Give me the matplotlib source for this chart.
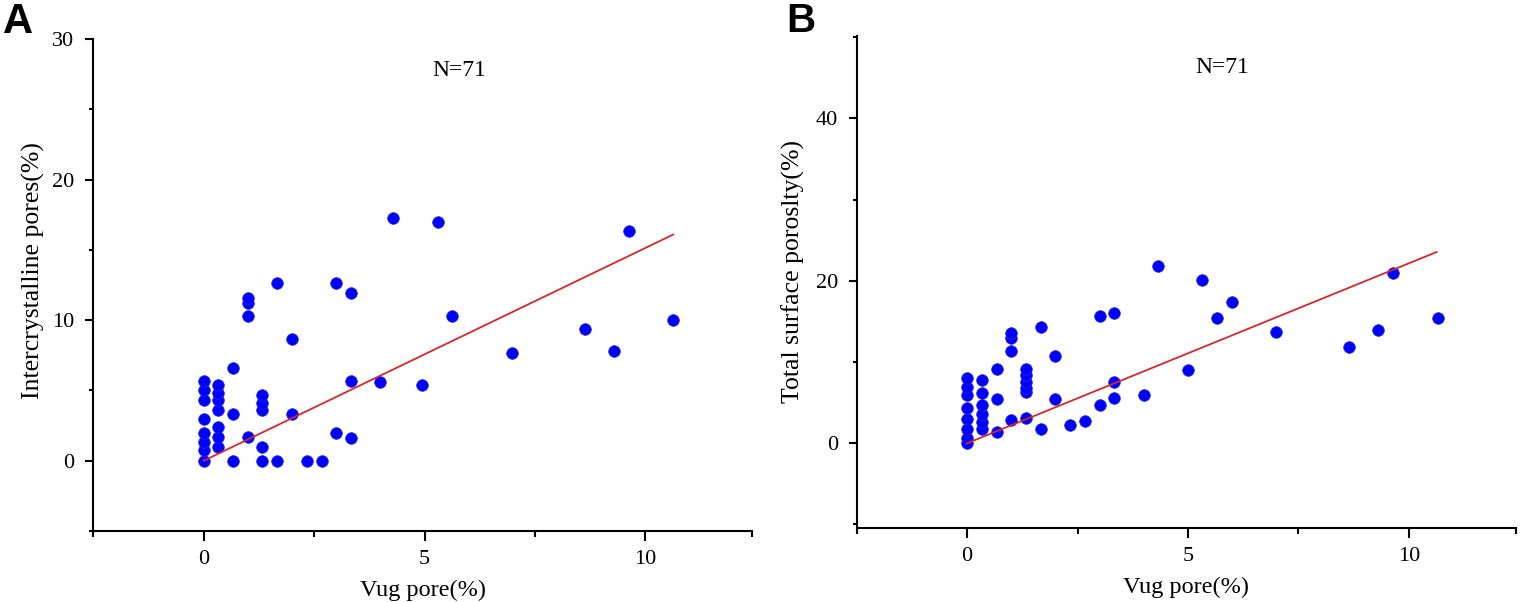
import matplotlib
matplotlib.use("Agg")
import matplotlib.pyplot as plt
from matplotlib.ticker import FixedLocator

# ---- data ----
vug_a = [0, 0, 0, 0, 0, 0, 0, 0,
         0.33, 0.33, 0.33, 0.33, 0.33, 0.33, 0.33,
         0.67, 0.67, 0.67,
         1.0, 1.0, 1.0, 1.0,
         1.33, 1.33, 1.33, 1.33, 1.33,
         1.67, 1.67,
         2.0, 2.0,
         2.33, 2.67,
         3.0, 3.0,
         3.33, 3.33, 3.33,
         4.0, 4.28, 4.95, 5.3, 5.63, 6.98, 8.64, 9.28, 9.62, 10.63]
inter_a = [0, 0.75, 1.35, 2.0, 3.0, 4.3, 5.0, 5.7,
           1.0, 1.7, 2.4, 3.6, 4.3, 4.8, 5.4,
           0, 3.3, 6.6,
           1.7, 10.3, 11.25, 11.6,
           0, 1.0, 3.6, 4.1, 4.7,
           0, 12.65,
           3.35, 8.65,
           0, 0,
           2.0, 12.65,
           1.65, 5.7, 11.95,
           5.6, 17.3, 5.4, 17.0, 10.3, 7.65, 9.4, 7.8, 16.35, 10.0]

vug_b = [0, 0, 0, 0, 0, 0, 0, 0,
         0.33, 0.33, 0.33, 0.33, 0.33, 0.33,
         0.67, 0.67, 0.67,
         1.0, 1.0, 1.0, 1.0,
         1.33, 1.33, 1.33, 1.33, 1.33, 1.33,
         1.67, 1.67,
         2.0, 2.0,
         2.33, 2.67,
         3.0, 3.0,
         3.33, 3.33, 3.33,
         4.0, 4.33, 5.0, 5.31, 5.66, 6.0, 7.0, 8.64, 9.31, 9.65, 10.67]
total_b = [0, 0.6, 1.8, 3.0, 4.35, 5.9, 6.9, 8.0,
           1.8, 2.6, 3.65, 4.75, 6.2, 7.75,
           1.4, 5.45, 9.1,
           2.9, 11.3, 12.9, 13.6,
           3.15, 6.3, 6.85, 7.55, 8.4, 9.2,
           1.8, 14.3,
           5.4, 10.7,
           2.3, 2.75,
           4.65, 15.65,
           5.6, 7.5, 16.0,
           5.9, 21.8, 9.0, 20.15, 15.4, 17.4, 13.65, 11.8, 14.0, 21.0, 15.4]

fit_x = [0, 10.63]
fit_a = [0, 16.09]
fit_b = [0, 23.55]

x_major = [0, 5, 10]
x_minor = [-2.5, 2.5, 7.5, 12.42]
ya_major = [0, 10, 20, 30]
ya_minor = [-5, 5, 15, 25]
yb_major = [0, 20, 40]
yb_minor = [-10, 10, 30, 50]

n_text = "N=71"
xlabel = "Vug pore(%)"
ylabel_a = "Intercrystalline pores(%)"
ylabel_b = "Total surface poroslty(%)"

# ---- style ----
plt.rcParams['font.family'] = ['Liberation Serif', 'DejaVu Serif']
W, H = 1520, 602
fig = plt.figure(figsize=(W / 100, H / 100), dpi=100)

def px_axes(left, top, right, bottom):
    return fig.add_axes([left / W, (H - bottom) / H, (right - left) / W, (bottom - top) / H])

axA = px_axes(93.3, 39, 752.3, 531)
axB = px_axes(856.7, 36, 1515.7, 527.7)

def style(ax, xs, ys, fy, ylim, ymaj, ymin, ylab, ylab_x, ylab_y):
    ax.plot(xs, ys, 'o', color='#0000ff', markersize=8.4, markeredgewidth=0.5,
            markeredgecolor='#2a2ad8', zorder=3, clip_on=False)
    ax.plot(fit_x, fy, '-', color='#d8262b', lw=1.3, zorder=4)
    ax.set_xlim(-2.5, 12.42)
    ax.set_ylim(*ylim)
    for s in ['top', 'right']:
        ax.spines[s].set_visible(False)
    for s in ['left', 'bottom']:
        ax.spines[s].set_linewidth(1.5)
    ax.xaxis.set_major_locator(FixedLocator(x_major))
    ax.xaxis.set_minor_locator(FixedLocator(x_minor))
    ax.yaxis.set_major_locator(FixedLocator(ymaj))
    ax.yaxis.set_minor_locator(FixedLocator(ymin))
    ax.tick_params(axis='x', which='major', length=7, width=1.5, direction='out',
                   labelsize=16, pad=7)
    ax.tick_params(axis='x', which='minor', length=4.5, width=1.5, direction='out')
    ax.tick_params(axis='y', which='major', length=5.5, width=1.5, direction='out',
                   labelsize=16, pad=8)
    ax.tick_params(axis='y', which='minor', length=3, width=1.5, direction='out')
    ax.set_xlabel(xlabel, fontsize=17.5)
    ax.set_ylabel(ylabel=ylab, fontsize=18.5)
    ax.xaxis.set_label_coords(0.5, -0.1)
    ax.yaxis.set_label_coords(ylab_x, ylab_y)
    ax.text(0.555, 0.935, n_text, transform=ax.transAxes, ha='center', va='center',
            fontsize=17)

style(axA, vug_a, inter_a, fit_a, (-5, 30), ya_major, ya_minor, ylabel_a, -0.074, 0.53)
style(axB, vug_b, total_b, fit_b, (-10.4, 50.15), yb_major, yb_minor, ylabel_b, -0.079, 0.522)

fig.text(3 / W, 1 - 2 / H, "A", family=['Liberation Sans', 'DejaVu Sans'],
         fontweight='bold', fontsize=30, ha='left', va='top')
fig.text(786 / W, 1 - 2 / H, "B", family=['Liberation Sans', 'DejaVu Sans'],
         fontweight='bold', fontsize=29, ha='left', va='top')

fig.savefig("out.png", dpi=100)
